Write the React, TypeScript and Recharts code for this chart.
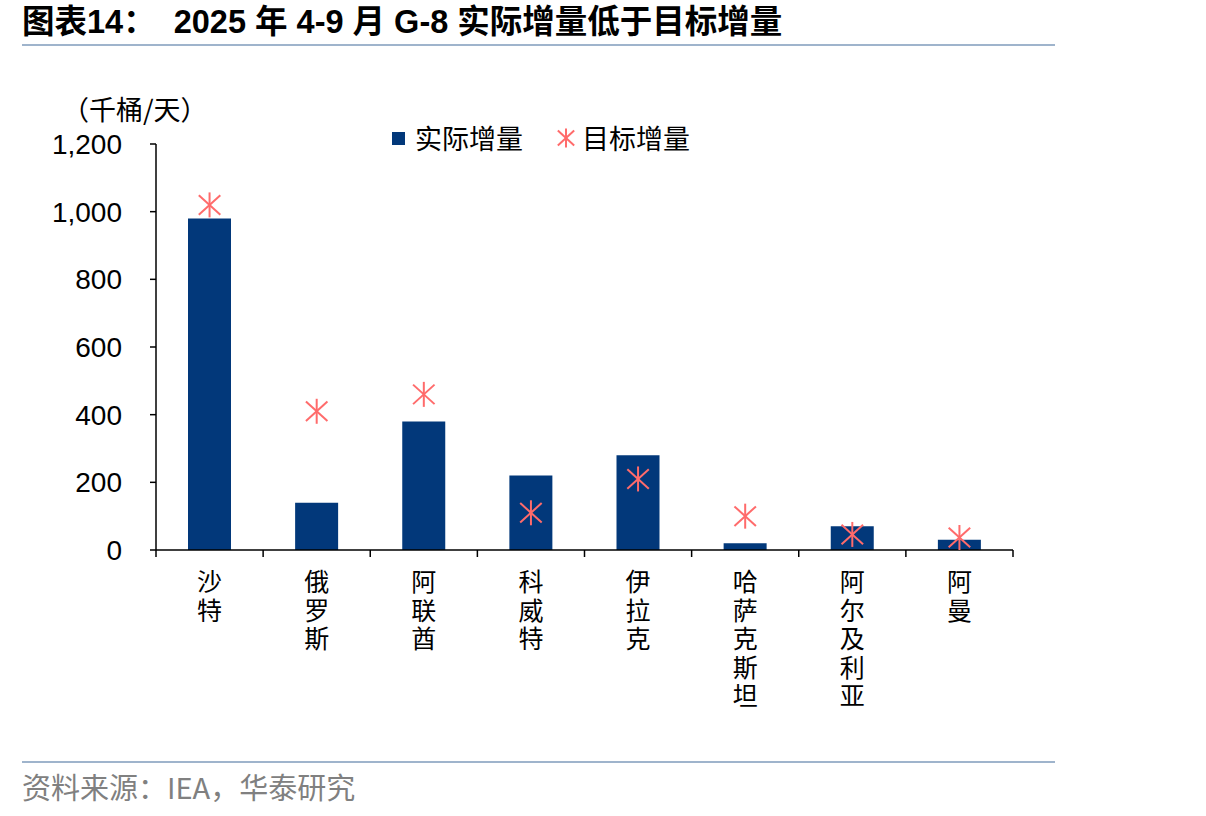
import { Bar, ComposedChart, Scatter, XAxis, YAxis } from 'recharts'

// 2025年4-9月 G-8 各国实际增量与目标增量（千桶/天）
const countries = ['沙特', '俄罗斯', '阿联酋', '科威特', '伊拉克', '哈萨克斯坦', '阿尔及利亚', '阿曼']
const actualIncrease = [980, 140, 380, 220, 280, 20, 70, 30]
const targetIncrease = [1020, 410, 460, 110, 210, 100, 46, 37]
const yTicks = [0, 200, 400, 600, 800, 1000, 1200]

const data = countries.map((name, i) => ({ name, actual: actualIncrease[i], target: targetIncrease[i] }))

const NAVY = '#02387A'
const PINK = '#FF6B6B'
const CJK = '"Noto Sans CJK SC", "Liberation Sans", sans-serif'

function Asterisk({ cx, cy, r = 12.5 }: { cx: number; cy: number; r?: number }) {
  const dx = r * 0.86
  const dy = r * 0.78
  return (
    <g stroke={PINK} strokeWidth={2}>
      <line x1={cx} y1={cy - r} x2={cx} y2={cy + r} />
      <line x1={cx - dx} y1={cy - dy} x2={cx + dx} y2={cy + dy} />
      <line x1={cx - dx} y1={cy + dy} x2={cx + dx} y2={cy - dy} />
    </g>
  )
}

// 类目标签逐字竖排，刻度线画在类目分界处
function CountryTick(props: any) {
  const { x, y, payload, index, visibleTicksCount } = props
  const half = payload.offset ?? 53.5
  const chars = Array.from(String(payload.value))
  return (
    <g>
      <line x1={x - half} y1={y} x2={x - half} y2={y + 7} stroke="#000" strokeWidth={1.5} />
      {index === visibleTicksCount - 1 && (
        <line x1={x + half} y1={y} x2={x + half} y2={y + 7} stroke="#000" strokeWidth={1.5} />
      )}
      {chars.map((c, i) => (
        <text key={i} x={x} y={y + 41 + i * 28.5} textAnchor="middle" fontSize={25} fontFamily={CJK} fill="#000">
          {c}
        </text>
      ))}
    </g>
  )
}

function ChartLegend() {
  return (
    <div
      style={{
        position: 'absolute',
        left: 392,
        top: 121,
        display: 'flex',
        alignItems: 'center',
        fontFamily: CJK,
        fontSize: 27,
        lineHeight: '34px',
        color: '#000',
      }}
    >
      <span style={{ width: 13, height: 13, background: NAVY, display: 'inline-block', marginRight: 10 }} />
      <span>实际增量</span>
      <svg width={22} height={22} style={{ marginLeft: 32, marginRight: 5 }}>
        <Asterisk cx={11} cy={11} r={9.5} />
      </svg>
      <span>目标增量</span>
    </div>
  )
}

export default function App() {
  return (
    <div style={{ position: 'absolute', left: 0, top: 0, width: 1206, height: 816, background: '#fff', fontFamily: CJK }}>
      <div
        style={{
          position: 'absolute',
          left: 22,
          top: 2,
          fontSize: 32.5,
          lineHeight: '40px',
          fontWeight: 700,
          color: '#000',
          whiteSpace: 'pre',
          fontFamily: '"Liberation Sans", "Noto Sans CJK SC", sans-serif',
        }}
      >
        图表14：  2025 年 4-9 月 G-8 实际增量低于目标增量
      </div>
      <div style={{ position: 'absolute', left: 22, top: 44, width: 1033, height: 2, background: '#9FB4CC' }} />
      <div style={{ position: 'absolute', left: 62, top: 92, fontSize: 27, lineHeight: '34px', color: '#000' }}>（千桶/天）</div>
      <ComposedChart
        width={1206}
        height={816}
        data={data}
        margin={{ top: 144, right: 193, bottom: 0, left: 56 }}
        style={{ position: 'absolute', left: 0, top: 0 }}
      >
        <XAxis
          dataKey="name"
          interval={0}
          tickLine={false}
          tickSize={0}
          tickMargin={0}
          axisLine={{ stroke: '#000', strokeWidth: 1.5 }}
          tick={<CountryTick />}
          height={266}
        />
        <YAxis
          width={100}
          domain={[0, 1200]}
          ticks={yTicks}
          interval={0}
          tickSize={6}
          tickMargin={28}
          axisLine={{ stroke: '#000', strokeWidth: 1.5 }}
          tickLine={{ stroke: '#000', strokeWidth: 1.5 }}
          tick={{ fill: '#000', fontSize: 28, fontFamily: '"Liberation Sans", Arial, sans-serif' }}
          tickFormatter={(v: number) => v.toLocaleString('en-US')}
        />
        <Bar dataKey="actual" fill={NAVY} barSize={43} isAnimationActive={false} />
        <Scatter dataKey="target" isAnimationActive={false} shape={(p: any) => <Asterisk cx={p.cx} cy={p.cy} />} />
      </ComposedChart>
      <ChartLegend />
      <div style={{ position: 'absolute', left: 22, top: 761, width: 1033, height: 2, background: '#9FB4CC' }} />
      <div style={{ position: 'absolute', left: 22, top: 768, fontSize: 29, lineHeight: '36px', color: '#808080' }}>
        资料来源：IEA，华泰研究
      </div>
    </div>
  )
}
